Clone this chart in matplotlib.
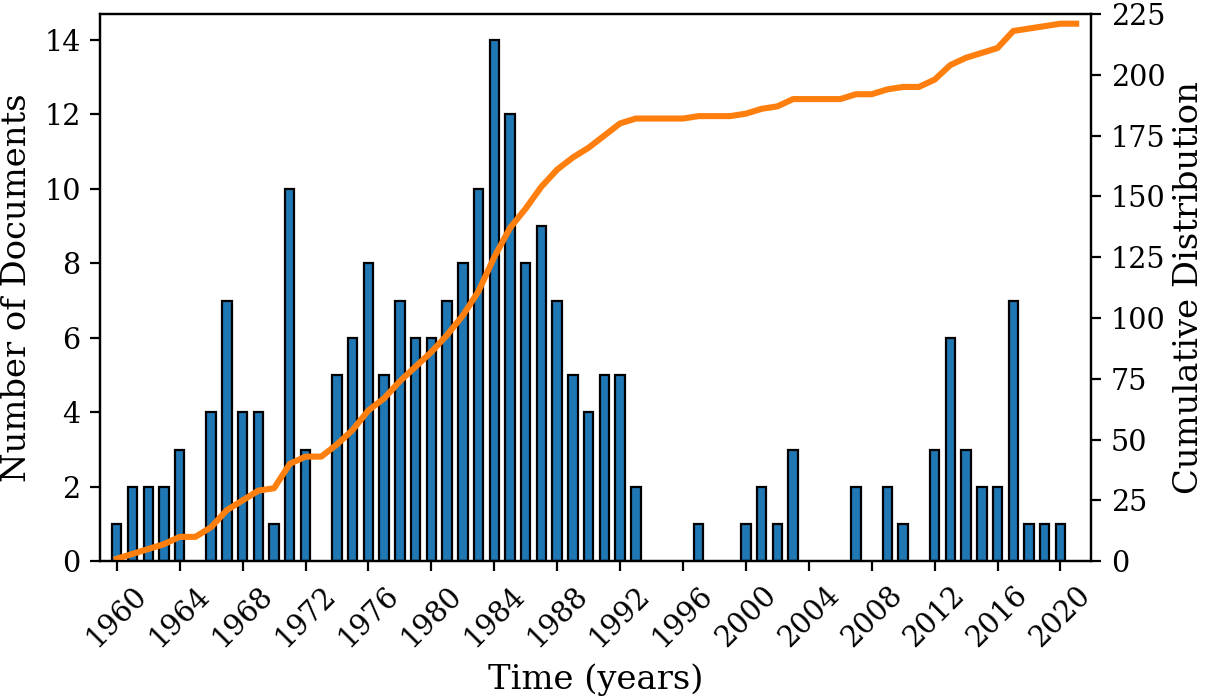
import numpy as np
import matplotlib
matplotlib.use("Agg")
import matplotlib.pyplot as plt

plt.rcParams["font.family"] = "DejaVu Serif"
plt.rcParams["font.size"] = 12
plt.rcParams["xtick.labelsize"] = 10.3
plt.rcParams["ytick.labelsize"] = 10.3

# documents per year, 1960..2021
years = list(range(1960, 2022))
counts = [1, 2, 2, 2, 3, 0, 4, 7, 4, 4,      # 1960-1969
          1, 10, 3, 0, 5, 6, 8, 5, 7, 6,     # 1970-1979
          6, 7, 8, 10, 14, 12, 8, 9, 7, 5,   # 1980-1989
          4, 5, 5, 2, 0, 0, 0, 1, 0, 0,      # 1990-1999
          1, 2, 1, 3, 0, 0, 0, 2, 0, 2,      # 2000-2009
          1, 0, 3, 6, 3, 2, 2, 7, 1, 1,      # 2010-2019
          1, 0]                              # 2020-2021
xticks = list(range(1960, 2021, 4))

yrs = np.array(years)
cnt = np.array(counts)
cumulative = np.cumsum(cnt)
nz = cnt > 0

fig, ax = plt.subplots(figsize=(6.03, 3.49), dpi=200)
fig.subplots_adjust(left=0.083, right=0.905, top=0.98, bottom=0.196)

ax.bar(yrs[nz], cnt[nz], width=0.6, color="#1f77b4", edgecolor="black", linewidth=0.8)
ax.set_ylabel("Number of Documents", fontsize=12.2)
ax.set_xlabel("Time (years)", fontsize=12.2)
ax.set_yticks(range(0, 15, 2))
ax.set_ylim(0, 14.7)
ax.set_xticks(xticks)
ax.set_xticklabels([str(y) for y in xticks], rotation=45)
ax.set_xlim(1958.94, 2021.97)

ax2 = ax.twinx()
ax2.plot(yrs, cumulative, color="#ff7f0e", linewidth=2.2)
ax2.set_ylim(0, 225)
ax2.set_yticks(range(0, 226, 25))
ax2.set_ylabel("Cumulative Distribution", fontsize=12.2, labelpad=2.5)

plt.savefig("out.png", dpi=200)
